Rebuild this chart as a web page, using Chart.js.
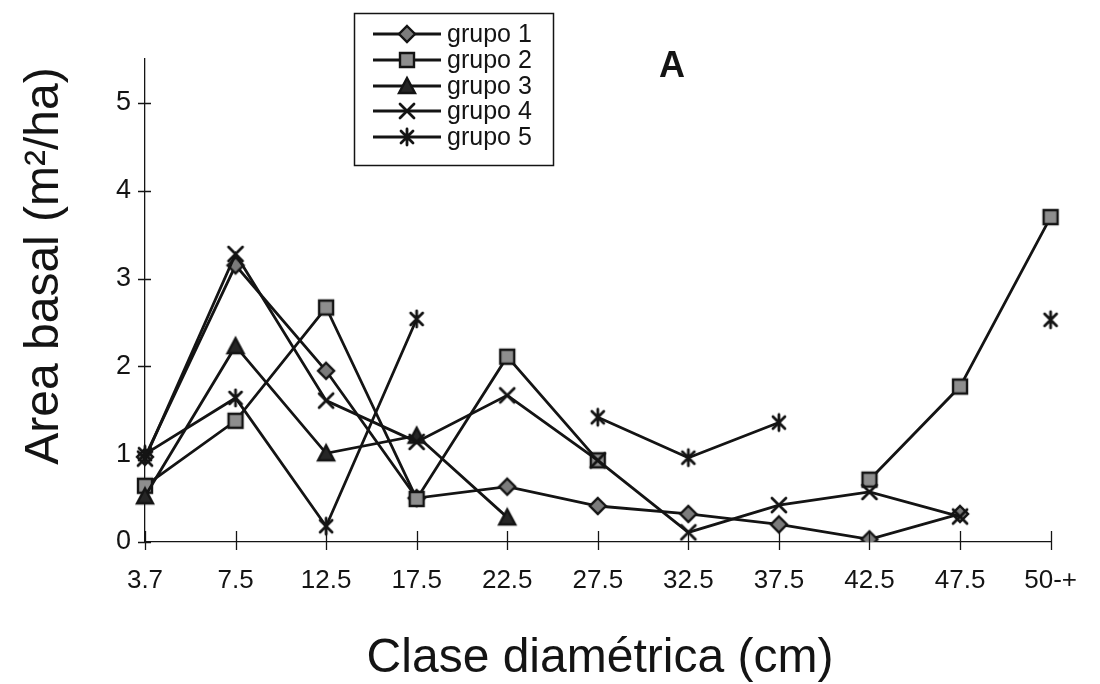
<!DOCTYPE html>
<html>
<head>
<meta charset="utf-8">
<script src="https://cdn.jsdelivr.net/npm/chart.js@4.4.0/dist/chart.umd.min.js"></script>
<style>
  html, body { margin: 0; padding: 0; background: #fff; }
  #wrap { width: 1100px; height: 684px; }
</style>
</head>
<body>
<div id="wrap"><canvas id="chart" width="1100" height="684"></canvas></div>
<script>
// clases diamétricas (cm) y área basal por grupo (m²/ha)
const clases = ['3.7', '7.5', '12.5', '17.5', '22.5', '27.5', '32.5', '37.5', '42.5', '47.5', '50-+'];
const grupo1 = [0.97, 3.15, 1.95, 0.50, 0.63, 0.41, 0.32, 0.20, 0.03, 0.32, null];
const grupo2 = [0.64, 1.38, 2.67, 0.49, 2.11, 0.93, null, null, 0.71, 1.77, 3.70];
const grupo3 = [0.52, 2.23, 1.01, 1.21, 0.28, null, null, null, null, null, null];
const grupo4 = [0.95, 3.28, 1.61, 1.14, 1.67, 0.93, 0.11, 0.42, 0.57, 0.29, null];
const grupo5 = [1.00, 1.64, 0.18, 2.54, null, 1.42, 0.96, 1.36, null, null, 2.53];
const nombres = ['grupo 1', 'grupo 2', 'grupo 3', 'grupo 4', 'grupo 5'];
const yTicks = [0, 1, 2, 3, 4, 5];

const INK = '#141414';
const SANS = "'Liberation Sans', Arial, sans-serif";

// marcadores dibujados a mano, como en el gráfico original
function marker(kind) {
  const c = document.createElement('canvas');
  c.width = c.height = 22;
  const g = c.getContext('2d');
  g.strokeStyle = INK;
  g.lineWidth = 2.4;
  g.lineCap = 'round';
  g.beginPath();
  if (kind === 'diamond') {
    g.moveTo(11, 3); g.lineTo(19, 11); g.lineTo(11, 19); g.lineTo(3, 11); g.closePath();
    g.fillStyle = '#7c7c7c'; g.fill(); g.stroke();
  } else if (kind === 'square') {
    g.rect(4, 4, 14, 14);
    g.fillStyle = '#8e8e8e'; g.fill(); g.stroke();
  } else if (kind === 'triangle') {
    g.moveTo(11, 3); g.lineTo(19, 18); g.lineTo(3, 18); g.closePath();
    g.fillStyle = '#262626'; g.fill(); g.stroke();
  } else if (kind === 'cross') {
    g.lineWidth = 2.8;
    g.moveTo(4, 4); g.lineTo(18, 18); g.moveTo(18, 4); g.lineTo(4, 18); g.stroke();
  } else {
    g.lineWidth = 2.8;
    g.moveTo(5, 5); g.lineTo(17, 17); g.moveTo(17, 5); g.lineTo(5, 17);
    g.moveTo(11, 3); g.lineTo(11, 19); g.stroke();
  }
  return c;
}
const markers = ['diamond', 'square', 'triangle', 'cross', 'asterisk'].map(marker);

const series = [grupo1, grupo2, grupo3, grupo4, grupo5];
const datasets = series.map((d, i) => ({
  label: nombres[i],
  data: d,
  borderColor: INK,
  borderWidth: 2.8,
  pointStyle: markers[i],
  pointRadius: 8,
  spanGaps: false,
  tension: 0,
  order: 4 - i
}));

// leyenda, título "A", títulos de ejes y marcas cruzadas de los ejes
const decor = {
  id: 'decor',
  afterDraw(chart) {
    const ctx = chart.ctx;
    const xs = chart.scales.x, ys = chart.scales.y;
    ctx.save();
    ctx.strokeStyle = INK;
    ctx.lineWidth = 1.3;
    ctx.beginPath();
    yTicks.forEach(v => {
      const py = Math.round(ys.getPixelForValue(v)) + 0.5;
      ctx.moveTo(xs.left - 7, py); ctx.lineTo(xs.left + 6, py);
    });
    clases.forEach((c, i) => {
      const px = Math.round(xs.getPixelForValue(i)) + 0.5;
      ctx.moveTo(px, ys.bottom - 11); ctx.lineTo(px, ys.bottom + 8);
    });
    ctx.stroke();

    // leyenda
    ctx.lineWidth = 1.5;
    ctx.strokeRect(354.5, 13.5, 199, 152);
    const rows = [34, 60, 86, 111, 137];
    ctx.font = '25px ' + SANS;
    ctx.textBaseline = 'middle';
    ctx.fillStyle = INK;
    rows.forEach((y, i) => {
      ctx.lineWidth = 2.8;
      ctx.beginPath(); ctx.moveTo(373, y); ctx.lineTo(441, y); ctx.stroke();
      ctx.drawImage(markers[i], 407 - 11, y - 11);
      ctx.fillText(nombres[i], 447, y + 1);
    });

    ctx.font = 'bold 36px ' + SANS;
    ctx.textAlign = 'center';
    ctx.textBaseline = 'alphabetic';
    ctx.fillText('A', 672, 77);

    ctx.font = '48px ' + SANS;
    ctx.fillText('Clase diamétrica (cm)', 600, 672);

    ctx.translate(58, 266);
    ctx.rotate(-Math.PI / 2);
    ctx.fillText('Area basal (m²/ha)', 0, 0);
    ctx.restore();
  }
};

new Chart(document.getElementById('chart'), {
  type: 'line',
  data: { labels: clases, datasets },
  options: {
    responsive: false,
    animation: false,
    devicePixelRatio: 1,
    layout: { padding: { left: 0, top: 59, right: 26, bottom: 0 } },
    plugins: { legend: { display: false }, tooltip: { enabled: false }, title: { display: false } },
    scales: {
      x: {
        type: 'category',
        offset: false,
        afterFit: s => { s.height = 142; },
        grid: { display: false, drawTicks: false },
        border: { display: true, color: INK, width: 1.3 },
        ticks: { color: INK, font: { family: SANS, size: 26 }, padding: 23, maxRotation: 0, autoSkip: false }
      },
      y: {
        min: 0,
        max: 5.5,
        afterFit: s => { s.width = 145; },
        afterBuildTicks: s => { s.ticks = yTicks.map(v => ({ value: v })); },
        grid: { display: false, drawTicks: false },
        border: { display: true, color: INK, width: 1.3 },
        ticks: { color: INK, font: { family: SANS, size: 27 }, padding: 14 }
      }
    }
  },
  plugins: [decor]
});
</script>
</body>
</html>
